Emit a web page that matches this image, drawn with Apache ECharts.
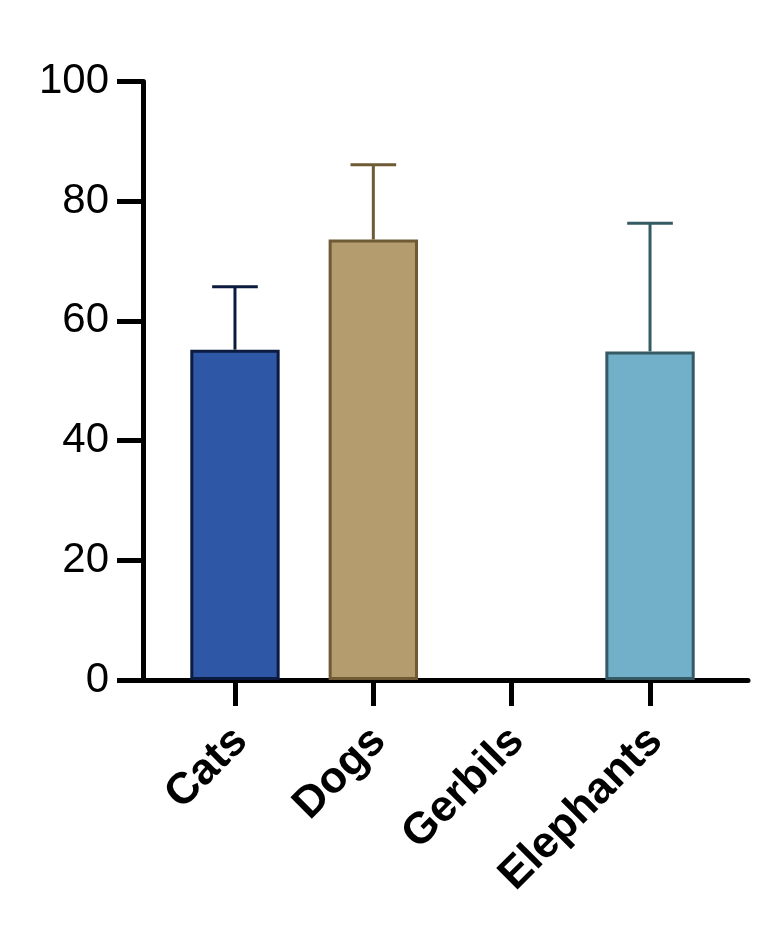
<!DOCTYPE html>
<html>
<head>
<meta charset="utf-8">
<script src="https://cdn.jsdelivr.net/npm/echarts@6/dist/echarts.min.js"></script>
<style>
html,body{margin:0;padding:0;background:#fff;}
#chart{width:774px;height:939px;}
</style>
</head>
<body>
<div id="chart"></div>
<script>
const categories = ['Cats', 'Dogs', 'Gerbils', 'Elephants'];
const means = [55.2, 73.6, null, 54.9];
const errors = [10.5, 12.5, null, 21.4];
const yTicks = [0, 20, 40, 60, 80, 100];
const fillColors = ['#2E58A5', '#B59C6E', '#9E9E9E', '#72AFC8'];
const edgeColors = ['#0B1A3E', '#6E5A34', '#555555', '#365A63'];

const FONT = "'Liberation Sans', Arial, Helvetica, sans-serif";
const chart = echarts.init(document.getElementById('chart'));

const barData = means.map((v, i) => ({
  value: v,
  itemStyle: { color: fillColors[i], borderColor: edgeColors[i], borderWidth: 3 }
}));
const errData = means.map((v, i) => [i, v, errors[i]]);

chart.setOption({
  animation: false,
  backgroundColor: '#fff',
  grid: [
    { left: 143, right: 26, top: 81.5, bottom: 259 },
    { left: 165.8, right: 54.8, top: 81.5, bottom: 259 }
  ],
  xAxis: [
    {
      gridIndex: 0, type: 'value', min: 0, max: 1,
      axisLine: { show: true, lineStyle: { color: '#000', width: 5 } },
      axisTick: { show: false }, axisLabel: { show: false }, splitLine: { show: false }
    },
    {
      gridIndex: 1, type: 'category', data: categories,
      axisLine: { show: false },
      axisTick: { show: true, alignWithLabel: true, length: 26, lineStyle: { color: '#000', width: 5 } },
      axisLabel: {
        rotate: 45, margin: 60, color: '#000', fontSize: 44, fontWeight: 'bold', fontFamily: FONT,
        interval: 0, padding: [0, -8, 0, 0]
      },
      splitLine: { show: false }
    }
  ],
  yAxis: [
    {
      gridIndex: 0, type: 'value', min: yTicks[0], max: yTicks[yTicks.length - 1], interval: 20,
      axisLine: { show: true, lineStyle: { color: '#000', width: 5 } },
      axisTick: { show: true, length: 26, lineStyle: { color: '#000', width: 5 } },
      axisLabel: { margin: 34, color: '#000', fontSize: 42, fontFamily: FONT },
      splitLine: { show: false }
    },
    {
      gridIndex: 1, type: 'value', min: 0, max: 100, show: false
    }
  ],
  series: [
    {
      type: 'custom',
      xAxisIndex: 1, yAxisIndex: 1,
      data: errData,
      z: 1,
      renderItem: function (params, api) {
        const idx = api.value(0), m = api.value(1), e = api.value(2);
        if (m == null || isNaN(m) || e == null || isNaN(e)) return null;
        const p0 = api.coord([idx, m]);
        const p1 = api.coord([idx, m + e]);
        const halfCap = api.size([1, 0])[0] * 0.165;
        const c = edgeColors[params.dataIndex];
        return {
          type: 'group',
          children: [
            { type: 'line', shape: { x1: p0[0], y1: p0[1], x2: p1[0], y2: p1[1] },
              style: { stroke: c, lineWidth: 3 } },
            { type: 'line', shape: { x1: p1[0] - halfCap, y1: p1[1], x2: p1[0] + halfCap, y2: p1[1] },
              style: { stroke: c, lineWidth: 3 } }
          ]
        };
      }
    },
    {
      type: 'bar',
      xAxisIndex: 1, yAxisIndex: 1,
      data: barData,
      barWidth: '64.6%',
      z: 2
    }
  ]
});
</script>
</body>
</html>
